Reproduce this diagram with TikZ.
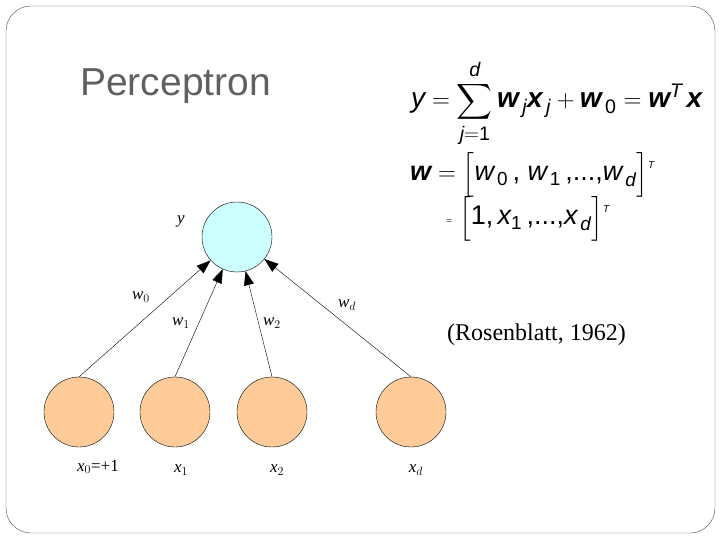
\documentclass[tikz,border=0pt]{standalone}
\usepackage{amsmath}
\usepackage{fontspec}
\setmainfont{Liberation Serif}
\newfontfamily\titlefont{Liberation Sans}
\newfontfamily\formfont{Liberation Sans}
\usetikzlibrary{arrows.meta}

\newcommand\fv[1]{\text{\formfont\itshape #1}}
\newcommand\fb[1]{\text{\formfont\bfseries\itshape #1}}
\newcommand\fn[1]{\text{\formfont #1}}
\newcommand\smallT{\raisebox{12pt}{\fontsize{10}{10}\selectfont\formfont\itshape T}}

\definecolor{outfill}{HTML}{CCFFFF}
\definecolor{infill}{HTML}{FFCC99}
\definecolor{titlegray}{HTML}{606060}

\tikzset{
  neuron/.style={circle,draw,thin,minimum size=70pt,inner sep=0pt},
  outnode/.style={neuron,fill=outfill},
  innode/.style={neuron,fill=infill},
  lbl/.style={font=\fontsize{17}{17}\selectfont\itshape,inner sep=0pt},
  arr/.style={-{Triangle[length=14pt,width=10pt]},thin},
  eqn/.style={anchor=base west,inner sep=0pt,font=\fontsize{27}{30}\selectfont}
}

\begin{document}
\begin{tikzpicture}[x=1pt,y=-1pt]
\useasboundingbox (0,0) rectangle (720,540);
\draw[rounded corners=25pt,black!70] (6,6) rectangle (715,533);

\node[anchor=base west,text=titlegray,font=\titlefont\fontsize{39}{39}\selectfont,inner sep=0pt] (title) at (80,96) {Perceptron};

% network
\node[outnode] (y) at (237,237) {};
\node[innode] (x0) at (79,412) {};
\node[innode] (x1) at (175,412) {};
\node[innode] (x2) at (272,412) {};
\node[innode] (xd) at (411,412) {};

\draw[arr] (x0.north) -- (y);
\draw[arr] (x1.north) -- (y);
\draw[arr] (x2.north) -- (y);
\draw[arr] (xd.north) -- (y);

\node[lbl] (ly) at (181,221) {y};
\node[lbl] (lw0) at (141,297) {w$_0$};
\node[lbl] (lw1) at (181,323) {w$_1$};
\node[lbl] (lw2) at (272,323) {w$_2$};
\node[lbl] (lwd) at (347,305) {w$_d$};
\node[lbl] (lx0) at (98,467) {x$_0$\upshape=+1};
\node[lbl] (lx1) at (181,470) {x$_1$};
\node[lbl] (lx2) at (277,470) {x$_2$};
\node[lbl] (lxd) at (416,470) {x$_d$};

% formulas
\node[eqn,font=\fontsize{28}{30}\selectfont] (eq1) at (411,108)
  {$\displaystyle \fv{y} = \sum_{\fv{j}=\fn{1}}^{\fv{d}} \fb{w}_{\,\fv{j}}\fb{x}_{\,\fv{j}} + \fb{w}_{\,\fn{0}} = \fb{w}^{\fv{T}}\,\fb{x}$};
\node[eqn] (eq2) at (410,181)
  {$\fb{w} = \Bigl[\fv{w}_{\,\fn{0}}\fn{\,, }\fv{w}_{\,\fn{1}}\fn{\,,...,}\fv{w}_{\,\fv{d}}\Bigr]$\smallT};
\node[eqn] (eq3) at (446,225)
  {\fontsize{11}{11}\selectfont=\fontsize{27}{30}\selectfont\ $\Bigl[\fn{1,}\,\fv{x}_{\fn{1}}\fn{\,,...,}\fv{x}_{\,\fv{d}}\Bigr]$\smallT};

\node[anchor=west,inner sep=0pt,font=\fontsize{24}{24}\selectfont] (cite) at (447,335) {(Rosenblatt, 1962)};
\end{tikzpicture}
\end{document}
